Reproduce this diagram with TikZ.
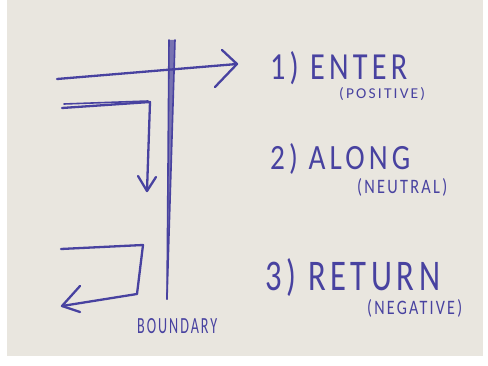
\documentclass[tikz,border=0pt]{standalone}
\usepackage{fontspec}
\setmainfont{Carlito}
\newfontfamily\thinf{Carlito}[LetterSpace=14]
\usepackage{graphicx}
\definecolor{paper}{RGB}{233,230,223}
\definecolor{ink}{RGB}{72,66,160}
\newcommand{\hw}[3]{\resizebox{#1pt}{#2pt}{\thinf #3}}
\begin{document}
\begin{tikzpicture}[x=1pt,y=-1pt,
  pen/.style={draw=ink,line width=2.3pt,line cap=round,line join=round},
  thinpen/.style={draw=ink,line width=1.6pt,line cap=round,line join=round},
  lbl/.style={anchor=base west,inner sep=0pt,text=ink}]
\useasboundingbox (0,0) rectangle (488,366);
\fill[white] (0,0) rectangle (488,366);
\fill[paper] (7,0) rectangle (483,356);

% boundary
\coordinate (bTL) at (169,40);
\coordinate (bTR) at (175,40);
\coordinate (bB) at (167,299);
\fill[ink,opacity=0.7] (bTL) -- (bTR) -- (bB) -- cycle;
\draw[thinpen] (bTL) -- (bB);
\draw[thinpen] (bTR) -- (bB);

% 1) enter
\coordinate (e0) at (57,79);
\coordinate (e1) at (237,64);
\coordinate (e1a) at (222,50);
\coordinate (e1b) at (215,87);
\draw[pen] (e0) -- (e1);
\draw[pen] (e1a) -- (e1) -- (e1b);

% 2) along
\coordinate (a0) at (62,108);
\coordinate (a1) at (150,102);
\coordinate (a2) at (147,191);
\coordinate (a2a) at (138,176);
\coordinate (a2b) at (156,177);
\draw[pen] (a0) -- (a1) -- (a2);
\draw[thinpen] (64,104) -- (148,101);
\draw[pen] (a2a) -- (a2) -- (a2b);

% 3) return
\coordinate (r0) at (61,249);
\coordinate (r1) at (143,245);
\coordinate (r2) at (137,294);
\coordinate (r3) at (62,306);
\coordinate (r3a) at (80,286);
\coordinate (r3b) at (80,312);
\draw[pen] (r0) -- (r1) -- (r2) -- (r3);
\draw[pen] (r3a) -- (r3) -- (r3b);

% labels
\node[lbl] (bnd) at (137,334) {\hw{80}{15}{BOUNDARY}};
\node[lbl] (t1) at (270,80) {\hw{137}{28}{1) ENTER}};
\node[lbl] (s1) at (339,99) {\hw{86}{11}{(POSITIVE)}};
\node[lbl] (t2) at (270,170) {\hw{140}{26}{2) ALONG}};
\node[lbl] (s2) at (357,194) {\hw{90}{15}{(NEUTRAL)}};
\node[lbl] (t3) at (265,291) {\hw{175}{32}{3) RETURN}};
\node[lbl] (s3) at (367,315) {\hw{95}{15}{(NEGATIVE)}};
\end{tikzpicture}
\end{document}
